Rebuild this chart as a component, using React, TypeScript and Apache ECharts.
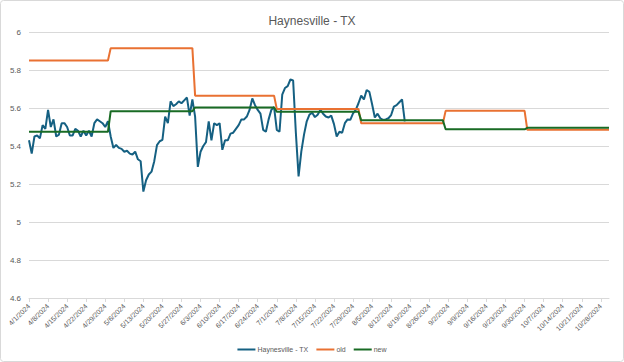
import { useEffect, useRef } from "react";
import * as echarts from "echarts";

// X axis: every day from 4/1/2024 to 10/31/2024
const DAY_COUNT = 214;
const categories: string[] = [];
const monthIndex: number[] = [];
for (let i = 0; i < DAY_COUNT; i++) {
  const d = new Date(2024, 3, 1 + i);
  categories.push(`${d.getMonth() + 1}/${d.getDate()}/${d.getFullYear()}`);
  monthIndex.push(d.getMonth() - 3);
}

// Haynesville - TX daily values from 4/1/2024
const haynesville = [
  5.43, 5.36, 5.45, 5.455, 5.44, 5.51, 5.49, 5.59, 5.5, 5.54,
  5.45, 5.46, 5.52, 5.52, 5.5, 5.455, 5.455, 5.49, 5.48, 5.45,
  5.48, 5.455, 5.48, 5.45, 5.52, 5.54, 5.53, 5.52, 5.5, 5.53,
  5.45, 5.39, 5.405, 5.39, 5.385, 5.37, 5.375, 5.36, 5.355, 5.37,
  5.33, 5.32, 5.16, 5.22, 5.25, 5.265, 5.32, 5.405, 5.425, 5.432,
  5.555, 5.52, 5.635, 5.61, 5.62, 5.635, 5.625, 5.64, 5.655, 5.56,
  5.645, 5.555, 5.29, 5.37, 5.4, 5.42, 5.53, 5.43, 5.52, 5.51,
  5.52, 5.38, 5.43, 5.43, 5.465, 5.47, 5.49, 5.51, 5.54, 5.54,
  5.555, 5.59, 5.65, 5.615, 5.59, 5.57, 5.485, 5.475, 5.54, 5.59,
  5.605, 5.485, 5.475, 5.67, 5.705, 5.715, 5.75, 5.745, 5.47, 5.24,
  5.37, 5.46, 5.53, 5.565, 5.575, 5.552, 5.565, 5.59, 5.57, 5.555,
  5.55, 5.56, 5.515, 5.45, 5.475, 5.47, 5.52, 5.54, 5.538, 5.572,
  5.59, 5.625, 5.665, 5.645, 5.695, 5.685, 5.62, 5.55, 5.57, 5.546,
  5.537, 5.54, 5.546, 5.563, 5.607, 5.615, 5.63, 5.645, 5.53,
];

// Monthly step levels, Apr..Oct
const oldMonthly = [5.85, 5.915, 5.665, 5.595, 5.52, 5.585, 5.485];
const newMonthly = [5.475, 5.583, 5.603, 5.58, 5.535, 5.488, 5.496];

const oldDaily = monthIndex.map((m) => oldMonthly[m]);
const newDaily = monthIndex.map((m) => newMonthly[m]);

const FONT = "'Liberation Sans Narrow', 'Liberation Sans', Roboto, sans-serif";
const TEXT = "#595959";
const GRID = "#d9d9d9";

export default function App() {
  const ref = useRef<HTMLDivElement>(null);
  useEffect(() => {
    if (!ref.current) return;
    const chart = echarts.init(ref.current, undefined, { renderer: "svg" });
    chart.setOption({
      animation: false,
      backgroundColor: "#ffffff",
      textStyle: { fontFamily: FONT },
      title: {
        text: "Haynesville - TX",
        left: "center",
        top: 10,
        textStyle: { fontFamily: FONT, fontSize: 12, fontWeight: "normal", color: TEXT },
      },
      graphic: [
        {
          type: "rect",
          shape: { x: 0.5, y: 0.5, width: 623, height: 361, r: 3 },
          style: { fill: "none", stroke: GRID, lineWidth: 1 },
          silent: true,
        },
      ],
      grid: { left: 29, right: 15, top: 32, bottom: 64, containLabel: false },
      legend: {
        bottom: 4,
        left: "center",
        icon: "rect",
        itemWidth: 18,
        itemHeight: 2,
        itemGap: 8,
        textStyle: { fontFamily: FONT, fontSize: 7, color: TEXT, padding: [0, 0, 0, -3] },
        data: ["Haynesville - TX", "old", "new"],
      },
      xAxis: {
        type: "category",
        data: categories,
        boundaryGap: false,
        axisLine: { lineStyle: { color: GRID } },
        axisTick: { show: true, interval: 6, length: 4, lineStyle: { color: GRID } },
        axisLabel: {
          interval: 6,
          rotate: 45,
          fontSize: 7,
          color: TEXT,
          fontFamily: FONT,
          margin: 7,
        },
        splitLine: { show: false },
      },
      yAxis: {
        type: "value",
        min: 4.6,
        max: 6,
        interval: 0.2,
        axisLine: { show: false },
        axisTick: { show: false },
        axisLabel: {
          fontSize: 8,
          color: TEXT,
          fontFamily: FONT,
          margin: 8,
          formatter: (v: number) => String(Number(v.toFixed(1))),
        },
        splitLine: { lineStyle: { color: GRID, width: 1 } },
      },
      series: [
        {
          name: "Haynesville - TX",
          type: "line",
          data: haynesville,
          showSymbol: false,
          symbol: "none",
          lineStyle: { color: "#156082", width: 2 },
          itemStyle: { color: "#156082" },
        },
        {
          name: "old",
          type: "line",
          data: oldDaily,
          showSymbol: false,
          symbol: "none",
          lineStyle: { color: "#E97132", width: 2 },
          itemStyle: { color: "#E97132" },
        },
        {
          name: "new",
          type: "line",
          data: newDaily,
          showSymbol: false,
          symbol: "none",
          lineStyle: { color: "#196B24", width: 2 },
          itemStyle: { color: "#196B24" },
        },
      ],
    });
    return () => chart.dispose();
  }, []);
  return (
    <div style={{ position: "fixed", left: 0, top: 0, width: 624, height: 362 }}>
      <div ref={ref} style={{ width: 624, height: 362 }} />
    </div>
  );
}
